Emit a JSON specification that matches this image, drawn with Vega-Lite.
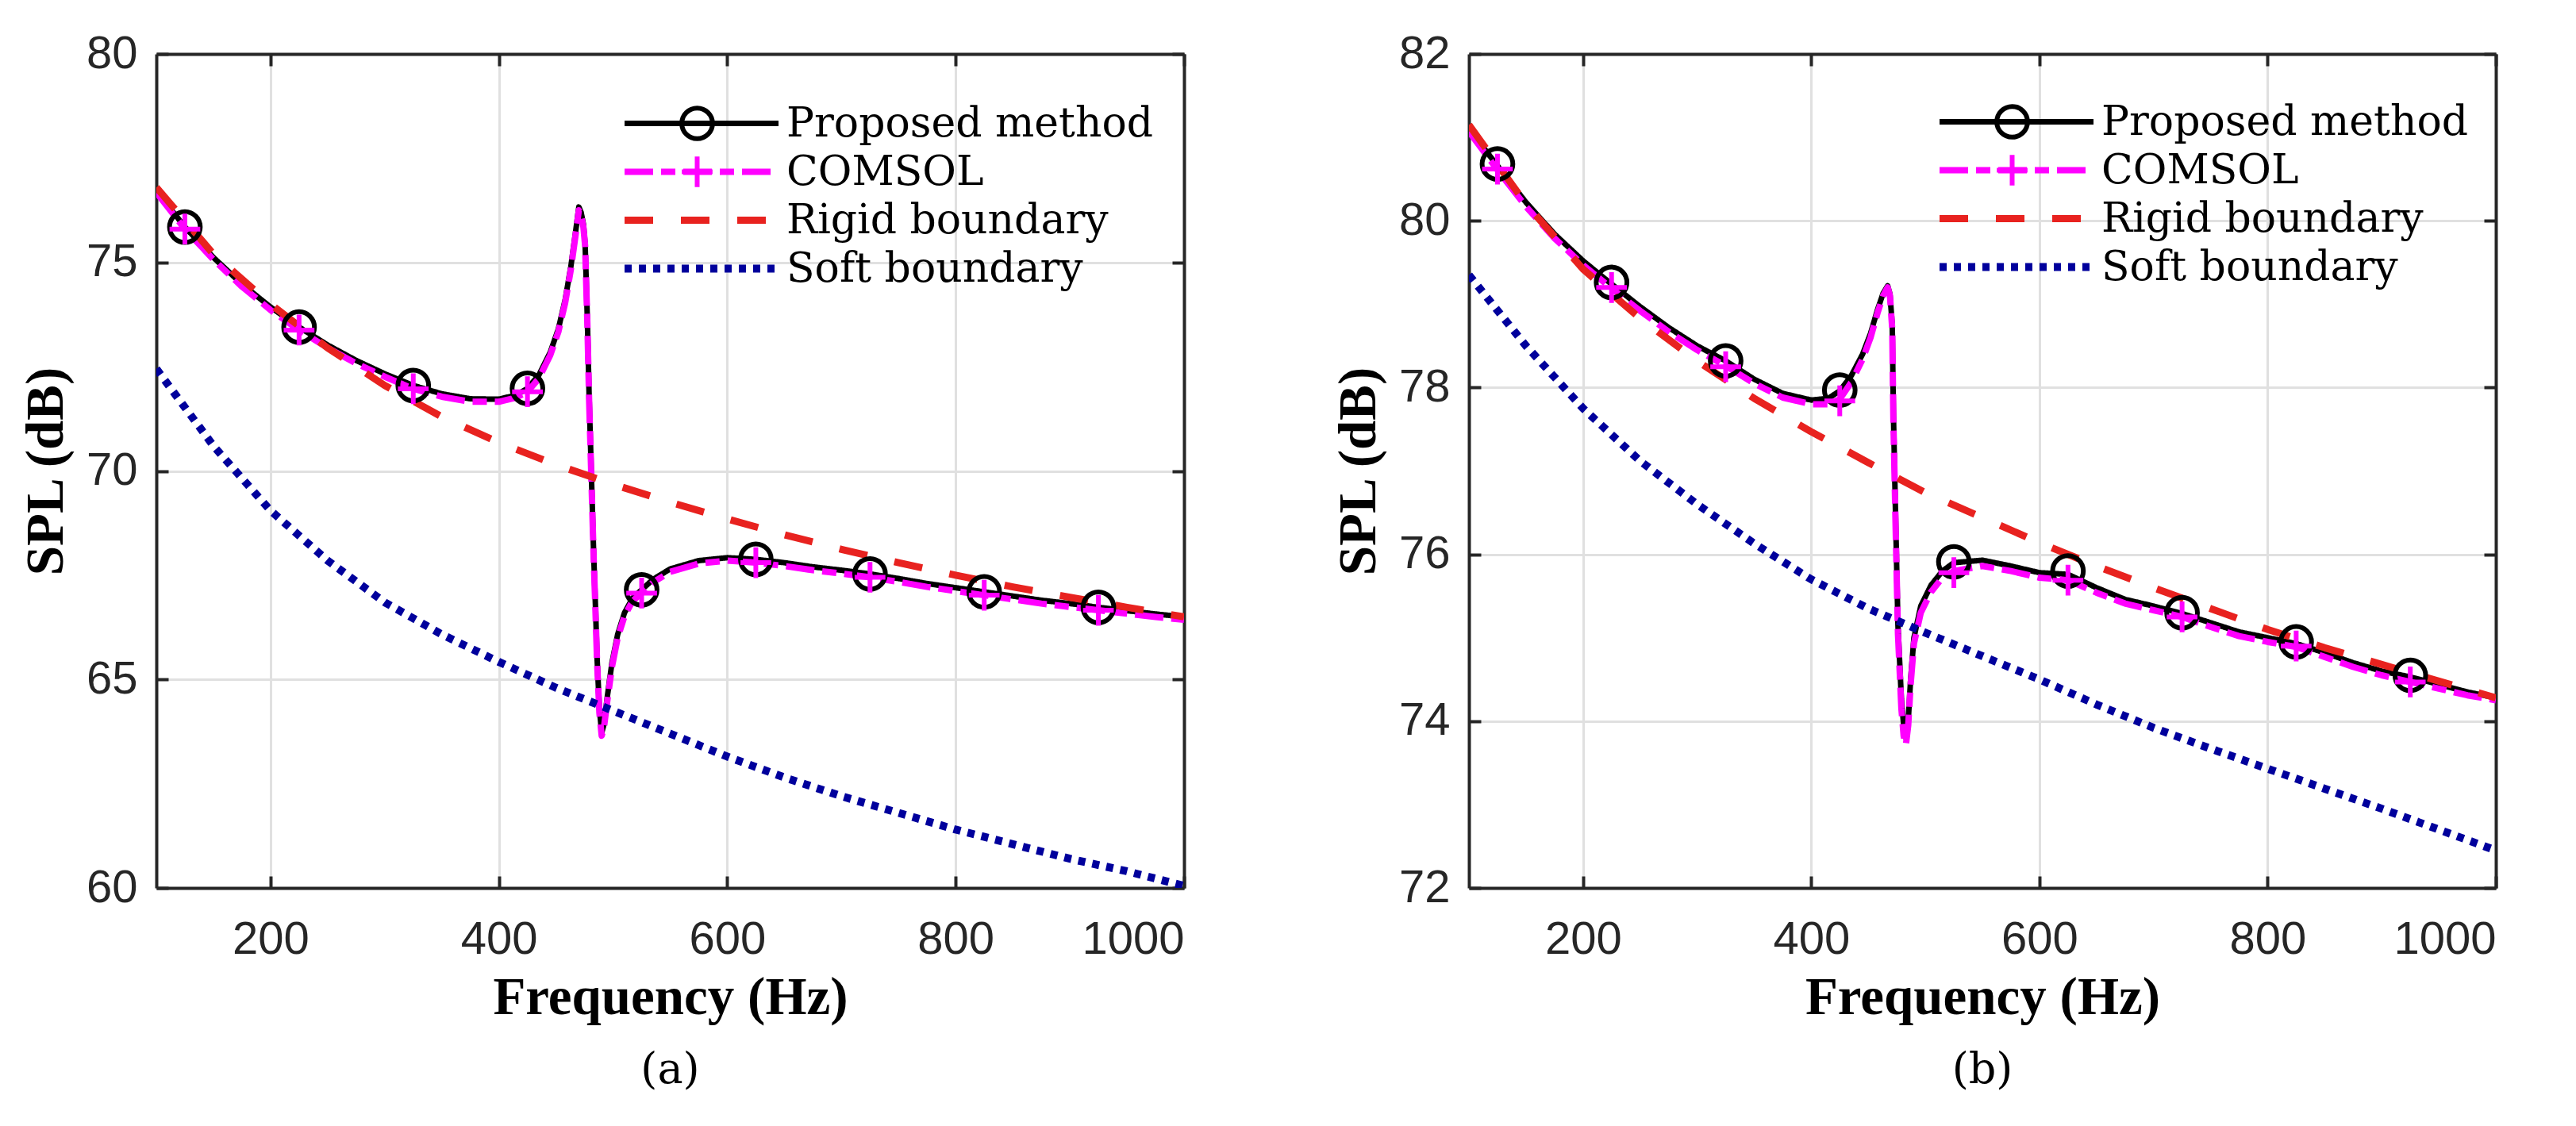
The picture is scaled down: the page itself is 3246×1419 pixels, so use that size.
{
  "$schema": "https://vega.github.io/schema/vega-lite/v6.json",
  "background": "white",
  "padding": {"left": 24, "top": 39, "right": 5, "bottom": 5},
  "datasets": {
    "lines": [
      {"panel": "a", "series": "Proposed method", "freq": 100, "spl": 76.72},
      {"panel": "a", "series": "Proposed method", "freq": 125, "spl": 75.85},
      {"panel": "a", "series": "Proposed method", "freq": 150, "spl": 75.12},
      {"panel": "a", "series": "Proposed method", "freq": 175, "spl": 74.48},
      {"panel": "a", "series": "Proposed method", "freq": 200, "spl": 73.93},
      {"panel": "a", "series": "Proposed method", "freq": 225, "spl": 73.45},
      {"panel": "a", "series": "Proposed method", "freq": 250, "spl": 73.02},
      {"panel": "a", "series": "Proposed method", "freq": 275, "spl": 72.65},
      {"panel": "a", "series": "Proposed method", "freq": 300, "spl": 72.33},
      {"panel": "a", "series": "Proposed method", "freq": 325, "spl": 72.05},
      {"panel": "a", "series": "Proposed method", "freq": 350, "spl": 71.85},
      {"panel": "a", "series": "Proposed method", "freq": 375, "spl": 71.73},
      {"panel": "a", "series": "Proposed method", "freq": 400, "spl": 71.72},
      {"panel": "a", "series": "Proposed method", "freq": 415, "spl": 71.82},
      {"panel": "a", "series": "Proposed method", "freq": 425, "spl": 71.98},
      {"panel": "a", "series": "Proposed method", "freq": 435, "spl": 72.3},
      {"panel": "a", "series": "Proposed method", "freq": 445, "spl": 72.85},
      {"panel": "a", "series": "Proposed method", "freq": 452, "spl": 73.4},
      {"panel": "a", "series": "Proposed method", "freq": 458, "spl": 74.1},
      {"panel": "a", "series": "Proposed method", "freq": 463, "spl": 74.9},
      {"panel": "a", "series": "Proposed method", "freq": 467, "spl": 75.7},
      {"panel": "a", "series": "Proposed method", "freq": 470, "spl": 76.33},
      {"panel": "a", "series": "Proposed method", "freq": 472, "spl": 76.2},
      {"panel": "a", "series": "Proposed method", "freq": 474, "spl": 75.92},
      {"panel": "a", "series": "Proposed method", "freq": 475.5, "spl": 75.45},
      {"panel": "a", "series": "Proposed method", "freq": 477.5, "spl": 73.6},
      {"panel": "a", "series": "Proposed method", "freq": 479, "spl": 71.8},
      {"panel": "a", "series": "Proposed method", "freq": 481, "spl": 69.9},
      {"panel": "a", "series": "Proposed method", "freq": 483, "spl": 68.0},
      {"panel": "a", "series": "Proposed method", "freq": 484.5, "spl": 66.8},
      {"panel": "a", "series": "Proposed method", "freq": 486, "spl": 65.5},
      {"panel": "a", "series": "Proposed method", "freq": 488, "spl": 64.3},
      {"panel": "a", "series": "Proposed method", "freq": 490, "spl": 63.72},
      {"panel": "a", "series": "Proposed method", "freq": 492, "spl": 63.92},
      {"panel": "a", "series": "Proposed method", "freq": 495, "spl": 64.6},
      {"panel": "a", "series": "Proposed method", "freq": 499, "spl": 65.4},
      {"panel": "a", "series": "Proposed method", "freq": 504, "spl": 66.08},
      {"panel": "a", "series": "Proposed method", "freq": 510, "spl": 66.6},
      {"panel": "a", "series": "Proposed method", "freq": 517, "spl": 66.95},
      {"panel": "a", "series": "Proposed method", "freq": 525, "spl": 67.15},
      {"panel": "a", "series": "Proposed method", "freq": 535, "spl": 67.4},
      {"panel": "a", "series": "Proposed method", "freq": 550, "spl": 67.65},
      {"panel": "a", "series": "Proposed method", "freq": 575, "spl": 67.85},
      {"panel": "a", "series": "Proposed method", "freq": 600, "spl": 67.92},
      {"panel": "a", "series": "Proposed method", "freq": 625, "spl": 67.88},
      {"panel": "a", "series": "Proposed method", "freq": 650, "spl": 67.8},
      {"panel": "a", "series": "Proposed method", "freq": 675, "spl": 67.7},
      {"panel": "a", "series": "Proposed method", "freq": 700, "spl": 67.62},
      {"panel": "a", "series": "Proposed method", "freq": 725, "spl": 67.53},
      {"panel": "a", "series": "Proposed method", "freq": 750, "spl": 67.42},
      {"panel": "a", "series": "Proposed method", "freq": 775, "spl": 67.3},
      {"panel": "a", "series": "Proposed method", "freq": 800, "spl": 67.2},
      {"panel": "a", "series": "Proposed method", "freq": 825, "spl": 67.1},
      {"panel": "a", "series": "Proposed method", "freq": 850, "spl": 67.0},
      {"panel": "a", "series": "Proposed method", "freq": 875, "spl": 66.9},
      {"panel": "a", "series": "Proposed method", "freq": 900, "spl": 66.82},
      {"panel": "a", "series": "Proposed method", "freq": 925, "spl": 66.73},
      {"panel": "a", "series": "Proposed method", "freq": 950, "spl": 66.65},
      {"panel": "a", "series": "Proposed method", "freq": 975, "spl": 66.57},
      {"panel": "a", "series": "Proposed method", "freq": 1000, "spl": 66.5},

      {"panel": "a", "series": "COMSOL", "freq": 100, "spl": 76.68},
      {"panel": "a", "series": "COMSOL", "freq": 125, "spl": 75.8},
      {"panel": "a", "series": "COMSOL", "freq": 150, "spl": 75.07},
      {"panel": "a", "series": "COMSOL", "freq": 175, "spl": 74.42},
      {"panel": "a", "series": "COMSOL", "freq": 200, "spl": 73.86},
      {"panel": "a", "series": "COMSOL", "freq": 225, "spl": 73.38},
      {"panel": "a", "series": "COMSOL", "freq": 250, "spl": 72.95},
      {"panel": "a", "series": "COMSOL", "freq": 275, "spl": 72.58},
      {"panel": "a", "series": "COMSOL", "freq": 300, "spl": 72.26},
      {"panel": "a", "series": "COMSOL", "freq": 325, "spl": 71.97},
      {"panel": "a", "series": "COMSOL", "freq": 350, "spl": 71.78},
      {"panel": "a", "series": "COMSOL", "freq": 375, "spl": 71.66},
      {"panel": "a", "series": "COMSOL", "freq": 400, "spl": 71.66},
      {"panel": "a", "series": "COMSOL", "freq": 415, "spl": 71.76},
      {"panel": "a", "series": "COMSOL", "freq": 425, "spl": 71.9},
      {"panel": "a", "series": "COMSOL", "freq": 435, "spl": 72.22},
      {"panel": "a", "series": "COMSOL", "freq": 445, "spl": 72.78},
      {"panel": "a", "series": "COMSOL", "freq": 452, "spl": 73.33},
      {"panel": "a", "series": "COMSOL", "freq": 458, "spl": 74.03},
      {"panel": "a", "series": "COMSOL", "freq": 463, "spl": 74.83},
      {"panel": "a", "series": "COMSOL", "freq": 467, "spl": 75.63},
      {"panel": "a", "series": "COMSOL", "freq": 470, "spl": 76.25},
      {"panel": "a", "series": "COMSOL", "freq": 472, "spl": 76.12},
      {"panel": "a", "series": "COMSOL", "freq": 474, "spl": 75.85},
      {"panel": "a", "series": "COMSOL", "freq": 475.5, "spl": 75.4},
      {"panel": "a", "series": "COMSOL", "freq": 477.5, "spl": 73.5},
      {"panel": "a", "series": "COMSOL", "freq": 479, "spl": 71.7},
      {"panel": "a", "series": "COMSOL", "freq": 481, "spl": 69.8},
      {"panel": "a", "series": "COMSOL", "freq": 483, "spl": 67.9},
      {"panel": "a", "series": "COMSOL", "freq": 484.5, "spl": 66.7},
      {"panel": "a", "series": "COMSOL", "freq": 486, "spl": 65.4},
      {"panel": "a", "series": "COMSOL", "freq": 488, "spl": 64.2},
      {"panel": "a", "series": "COMSOL", "freq": 490, "spl": 63.65},
      {"panel": "a", "series": "COMSOL", "freq": 492, "spl": 63.85},
      {"panel": "a", "series": "COMSOL", "freq": 495, "spl": 64.5},
      {"panel": "a", "series": "COMSOL", "freq": 499, "spl": 65.3},
      {"panel": "a", "series": "COMSOL", "freq": 504, "spl": 66.0},
      {"panel": "a", "series": "COMSOL", "freq": 510, "spl": 66.52},
      {"panel": "a", "series": "COMSOL", "freq": 517, "spl": 66.88},
      {"panel": "a", "series": "COMSOL", "freq": 525, "spl": 67.07},
      {"panel": "a", "series": "COMSOL", "freq": 535, "spl": 67.33},
      {"panel": "a", "series": "COMSOL", "freq": 550, "spl": 67.58},
      {"panel": "a", "series": "COMSOL", "freq": 575, "spl": 67.78},
      {"panel": "a", "series": "COMSOL", "freq": 600, "spl": 67.85},
      {"panel": "a", "series": "COMSOL", "freq": 625, "spl": 67.8},
      {"panel": "a", "series": "COMSOL", "freq": 650, "spl": 67.72},
      {"panel": "a", "series": "COMSOL", "freq": 675, "spl": 67.62},
      {"panel": "a", "series": "COMSOL", "freq": 700, "spl": 67.54},
      {"panel": "a", "series": "COMSOL", "freq": 725, "spl": 67.45},
      {"panel": "a", "series": "COMSOL", "freq": 750, "spl": 67.34},
      {"panel": "a", "series": "COMSOL", "freq": 775, "spl": 67.22},
      {"panel": "a", "series": "COMSOL", "freq": 800, "spl": 67.12},
      {"panel": "a", "series": "COMSOL", "freq": 825, "spl": 67.02},
      {"panel": "a", "series": "COMSOL", "freq": 850, "spl": 66.92},
      {"panel": "a", "series": "COMSOL", "freq": 875, "spl": 66.82},
      {"panel": "a", "series": "COMSOL", "freq": 900, "spl": 66.74},
      {"panel": "a", "series": "COMSOL", "freq": 925, "spl": 66.66},
      {"panel": "a", "series": "COMSOL", "freq": 950, "spl": 66.58},
      {"panel": "a", "series": "COMSOL", "freq": 975, "spl": 66.5},
      {"panel": "a", "series": "COMSOL", "freq": 1000, "spl": 66.43},

      {"panel": "a", "series": "Rigid boundary", "freq": 100, "spl": 76.8},
      {"panel": "a", "series": "Rigid boundary", "freq": 150, "spl": 75.2},
      {"panel": "a", "series": "Rigid boundary", "freq": 200, "spl": 74.0},
      {"panel": "a", "series": "Rigid boundary", "freq": 250, "spl": 72.95},
      {"panel": "a", "series": "Rigid boundary", "freq": 300, "spl": 72.05},
      {"panel": "a", "series": "Rigid boundary", "freq": 350, "spl": 71.3},
      {"panel": "a", "series": "Rigid boundary", "freq": 400, "spl": 70.68},
      {"panel": "a", "series": "Rigid boundary", "freq": 450, "spl": 70.15},
      {"panel": "a", "series": "Rigid boundary", "freq": 500, "spl": 69.68},
      {"panel": "a", "series": "Rigid boundary", "freq": 550, "spl": 69.25},
      {"panel": "a", "series": "Rigid boundary", "freq": 600, "spl": 68.85},
      {"panel": "a", "series": "Rigid boundary", "freq": 650, "spl": 68.47},
      {"panel": "a", "series": "Rigid boundary", "freq": 700, "spl": 68.12},
      {"panel": "a", "series": "Rigid boundary", "freq": 750, "spl": 67.8},
      {"panel": "a", "series": "Rigid boundary", "freq": 800, "spl": 67.5},
      {"panel": "a", "series": "Rigid boundary", "freq": 850, "spl": 67.22},
      {"panel": "a", "series": "Rigid boundary", "freq": 900, "spl": 66.97},
      {"panel": "a", "series": "Rigid boundary", "freq": 950, "spl": 66.73},
      {"panel": "a", "series": "Rigid boundary", "freq": 1000, "spl": 66.5},

      {"panel": "a", "series": "Soft boundary", "freq": 100, "spl": 72.45},
      {"panel": "a", "series": "Soft boundary", "freq": 150, "spl": 70.6},
      {"panel": "a", "series": "Soft boundary", "freq": 200, "spl": 69.05},
      {"panel": "a", "series": "Soft boundary", "freq": 250, "spl": 67.85},
      {"panel": "a", "series": "Soft boundary", "freq": 300, "spl": 66.85},
      {"panel": "a", "series": "Soft boundary", "freq": 350, "spl": 66.08},
      {"panel": "a", "series": "Soft boundary", "freq": 400, "spl": 65.42},
      {"panel": "a", "series": "Soft boundary", "freq": 450, "spl": 64.8},
      {"panel": "a", "series": "Soft boundary", "freq": 500, "spl": 64.25},
      {"panel": "a", "series": "Soft boundary", "freq": 550, "spl": 63.7},
      {"panel": "a", "series": "Soft boundary", "freq": 600, "spl": 63.15},
      {"panel": "a", "series": "Soft boundary", "freq": 650, "spl": 62.65},
      {"panel": "a", "series": "Soft boundary", "freq": 700, "spl": 62.2},
      {"panel": "a", "series": "Soft boundary", "freq": 750, "spl": 61.8},
      {"panel": "a", "series": "Soft boundary", "freq": 800, "spl": 61.4},
      {"panel": "a", "series": "Soft boundary", "freq": 850, "spl": 61.05},
      {"panel": "a", "series": "Soft boundary", "freq": 900, "spl": 60.7},
      {"panel": "a", "series": "Soft boundary", "freq": 950, "spl": 60.4},
      {"panel": "a", "series": "Soft boundary", "freq": 1000, "spl": 60.05},

      {"panel": "b", "series": "Proposed method", "freq": 100, "spl": 81.1},
      {"panel": "b", "series": "Proposed method", "freq": 125, "spl": 80.66},
      {"panel": "b", "series": "Proposed method", "freq": 150, "spl": 80.22},
      {"panel": "b", "series": "Proposed method", "freq": 175, "spl": 79.84},
      {"panel": "b", "series": "Proposed method", "freq": 200, "spl": 79.52},
      {"panel": "b", "series": "Proposed method", "freq": 225, "spl": 79.24},
      {"panel": "b", "series": "Proposed method", "freq": 250, "spl": 78.97},
      {"panel": "b", "series": "Proposed method", "freq": 275, "spl": 78.72},
      {"panel": "b", "series": "Proposed method", "freq": 300, "spl": 78.5},
      {"panel": "b", "series": "Proposed method", "freq": 325, "spl": 78.32},
      {"panel": "b", "series": "Proposed method", "freq": 350, "spl": 78.1},
      {"panel": "b", "series": "Proposed method", "freq": 375, "spl": 77.93},
      {"panel": "b", "series": "Proposed method", "freq": 400, "spl": 77.85},
      {"panel": "b", "series": "Proposed method", "freq": 415, "spl": 77.87},
      {"panel": "b", "series": "Proposed method", "freq": 425, "spl": 77.96},
      {"panel": "b", "series": "Proposed method", "freq": 435, "spl": 78.14},
      {"panel": "b", "series": "Proposed method", "freq": 445, "spl": 78.4},
      {"panel": "b", "series": "Proposed method", "freq": 452, "spl": 78.65},
      {"panel": "b", "series": "Proposed method", "freq": 458, "spl": 78.93},
      {"panel": "b", "series": "Proposed method", "freq": 463, "spl": 79.13},
      {"panel": "b", "series": "Proposed method", "freq": 467, "spl": 79.22},
      {"panel": "b", "series": "Proposed method", "freq": 469, "spl": 79.12},
      {"panel": "b", "series": "Proposed method", "freq": 471, "spl": 78.75},
      {"panel": "b", "series": "Proposed method", "freq": 472, "spl": 77.7},
      {"panel": "b", "series": "Proposed method", "freq": 474, "spl": 76.4},
      {"panel": "b", "series": "Proposed method", "freq": 476, "spl": 75.15},
      {"panel": "b", "series": "Proposed method", "freq": 479, "spl": 74.27},
      {"panel": "b", "series": "Proposed method", "freq": 481, "spl": 73.95},
      {"panel": "b", "series": "Proposed method", "freq": 483, "spl": 73.8},
      {"panel": "b", "series": "Proposed method", "freq": 485, "spl": 74.0},
      {"panel": "b", "series": "Proposed method", "freq": 487, "spl": 74.48},
      {"panel": "b", "series": "Proposed method", "freq": 490, "spl": 75.0},
      {"panel": "b", "series": "Proposed method", "freq": 496, "spl": 75.38},
      {"panel": "b", "series": "Proposed method", "freq": 505, "spl": 75.63},
      {"panel": "b", "series": "Proposed method", "freq": 515, "spl": 75.8},
      {"panel": "b", "series": "Proposed method", "freq": 525, "spl": 75.9},
      {"panel": "b", "series": "Proposed method", "freq": 550, "spl": 75.93},
      {"panel": "b", "series": "Proposed method", "freq": 575, "spl": 75.86},
      {"panel": "b", "series": "Proposed method", "freq": 600, "spl": 75.78},
      {"panel": "b", "series": "Proposed method", "freq": 625, "spl": 75.76},
      {"panel": "b", "series": "Proposed method", "freq": 650, "spl": 75.6},
      {"panel": "b", "series": "Proposed method", "freq": 675, "spl": 75.46},
      {"panel": "b", "series": "Proposed method", "freq": 700, "spl": 75.38},
      {"panel": "b", "series": "Proposed method", "freq": 725, "spl": 75.29},
      {"panel": "b", "series": "Proposed method", "freq": 750, "spl": 75.18},
      {"panel": "b", "series": "Proposed method", "freq": 775, "spl": 75.07},
      {"panel": "b", "series": "Proposed method", "freq": 800, "spl": 75.0},
      {"panel": "b", "series": "Proposed method", "freq": 825, "spl": 74.93},
      {"panel": "b", "series": "Proposed method", "freq": 850, "spl": 74.82},
      {"panel": "b", "series": "Proposed method", "freq": 875, "spl": 74.7},
      {"panel": "b", "series": "Proposed method", "freq": 900, "spl": 74.6},
      {"panel": "b", "series": "Proposed method", "freq": 925, "spl": 74.53},
      {"panel": "b", "series": "Proposed method", "freq": 950, "spl": 74.44},
      {"panel": "b", "series": "Proposed method", "freq": 975, "spl": 74.35},
      {"panel": "b", "series": "Proposed method", "freq": 1000, "spl": 74.28},

      {"panel": "b", "series": "COMSOL", "freq": 100, "spl": 81.07},
      {"panel": "b", "series": "COMSOL", "freq": 125, "spl": 80.61},
      {"panel": "b", "series": "COMSOL", "freq": 150, "spl": 80.17},
      {"panel": "b", "series": "COMSOL", "freq": 175, "spl": 79.79},
      {"panel": "b", "series": "COMSOL", "freq": 200, "spl": 79.47},
      {"panel": "b", "series": "COMSOL", "freq": 225, "spl": 79.19},
      {"panel": "b", "series": "COMSOL", "freq": 250, "spl": 78.92},
      {"panel": "b", "series": "COMSOL", "freq": 275, "spl": 78.67},
      {"panel": "b", "series": "COMSOL", "freq": 300, "spl": 78.45},
      {"panel": "b", "series": "COMSOL", "freq": 325, "spl": 78.26},
      {"panel": "b", "series": "COMSOL", "freq": 350, "spl": 78.05},
      {"panel": "b", "series": "COMSOL", "freq": 375, "spl": 77.88},
      {"panel": "b", "series": "COMSOL", "freq": 400, "spl": 77.8},
      {"panel": "b", "series": "COMSOL", "freq": 415, "spl": 77.8},
      {"panel": "b", "series": "COMSOL", "freq": 425, "spl": 77.86},
      {"panel": "b", "series": "COMSOL", "freq": 435, "spl": 78.06},
      {"panel": "b", "series": "COMSOL", "freq": 445, "spl": 78.34},
      {"panel": "b", "series": "COMSOL", "freq": 452, "spl": 78.6},
      {"panel": "b", "series": "COMSOL", "freq": 458, "spl": 78.89},
      {"panel": "b", "series": "COMSOL", "freq": 463, "spl": 79.1},
      {"panel": "b", "series": "COMSOL", "freq": 467, "spl": 79.2},
      {"panel": "b", "series": "COMSOL", "freq": 469, "spl": 79.1},
      {"panel": "b", "series": "COMSOL", "freq": 471, "spl": 78.7},
      {"panel": "b", "series": "COMSOL", "freq": 472, "spl": 77.6},
      {"panel": "b", "series": "COMSOL", "freq": 474, "spl": 76.3},
      {"panel": "b", "series": "COMSOL", "freq": 476, "spl": 75.05},
      {"panel": "b", "series": "COMSOL", "freq": 479, "spl": 74.15},
      {"panel": "b", "series": "COMSOL", "freq": 481, "spl": 73.82},
      {"panel": "b", "series": "COMSOL", "freq": 483, "spl": 73.72},
      {"panel": "b", "series": "COMSOL", "freq": 485, "spl": 73.95},
      {"panel": "b", "series": "COMSOL", "freq": 487, "spl": 74.42},
      {"panel": "b", "series": "COMSOL", "freq": 490, "spl": 74.93},
      {"panel": "b", "series": "COMSOL", "freq": 496, "spl": 75.3},
      {"panel": "b", "series": "COMSOL", "freq": 505, "spl": 75.55},
      {"panel": "b", "series": "COMSOL", "freq": 515, "spl": 75.72},
      {"panel": "b", "series": "COMSOL", "freq": 525, "spl": 75.8},
      {"panel": "b", "series": "COMSOL", "freq": 550, "spl": 75.86},
      {"panel": "b", "series": "COMSOL", "freq": 575, "spl": 75.8},
      {"panel": "b", "series": "COMSOL", "freq": 600, "spl": 75.72},
      {"panel": "b", "series": "COMSOL", "freq": 625, "spl": 75.69},
      {"panel": "b", "series": "COMSOL", "freq": 650, "spl": 75.54},
      {"panel": "b", "series": "COMSOL", "freq": 675, "spl": 75.41},
      {"panel": "b", "series": "COMSOL", "freq": 700, "spl": 75.33},
      {"panel": "b", "series": "COMSOL", "freq": 725, "spl": 75.25},
      {"panel": "b", "series": "COMSOL", "freq": 750, "spl": 75.13},
      {"panel": "b", "series": "COMSOL", "freq": 775, "spl": 75.02},
      {"panel": "b", "series": "COMSOL", "freq": 800, "spl": 74.95},
      {"panel": "b", "series": "COMSOL", "freq": 825, "spl": 74.89},
      {"panel": "b", "series": "COMSOL", "freq": 850, "spl": 74.77},
      {"panel": "b", "series": "COMSOL", "freq": 875, "spl": 74.65},
      {"panel": "b", "series": "COMSOL", "freq": 900, "spl": 74.55},
      {"panel": "b", "series": "COMSOL", "freq": 925, "spl": 74.47},
      {"panel": "b", "series": "COMSOL", "freq": 950, "spl": 74.39},
      {"panel": "b", "series": "COMSOL", "freq": 975, "spl": 74.31},
      {"panel": "b", "series": "COMSOL", "freq": 1000, "spl": 74.25},

      {"panel": "b", "series": "Rigid boundary", "freq": 100, "spl": 81.15},
      {"panel": "b", "series": "Rigid boundary", "freq": 150, "spl": 80.2},
      {"panel": "b", "series": "Rigid boundary", "freq": 200, "spl": 79.42},
      {"panel": "b", "series": "Rigid boundary", "freq": 250, "spl": 78.83},
      {"panel": "b", "series": "Rigid boundary", "freq": 300, "spl": 78.32},
      {"panel": "b", "series": "Rigid boundary", "freq": 350, "spl": 77.87},
      {"panel": "b", "series": "Rigid boundary", "freq": 400, "spl": 77.47},
      {"panel": "b", "series": "Rigid boundary", "freq": 450, "spl": 77.1},
      {"panel": "b", "series": "Rigid boundary", "freq": 500, "spl": 76.74},
      {"panel": "b", "series": "Rigid boundary", "freq": 550, "spl": 76.44},
      {"panel": "b", "series": "Rigid boundary", "freq": 600, "spl": 76.14},
      {"panel": "b", "series": "Rigid boundary", "freq": 650, "spl": 75.86},
      {"panel": "b", "series": "Rigid boundary", "freq": 700, "spl": 75.6},
      {"panel": "b", "series": "Rigid boundary", "freq": 750, "spl": 75.35},
      {"panel": "b", "series": "Rigid boundary", "freq": 800, "spl": 75.1},
      {"panel": "b", "series": "Rigid boundary", "freq": 850, "spl": 74.88},
      {"panel": "b", "series": "Rigid boundary", "freq": 900, "spl": 74.68},
      {"panel": "b", "series": "Rigid boundary", "freq": 950, "spl": 74.48},
      {"panel": "b", "series": "Rigid boundary", "freq": 1000, "spl": 74.28},

      {"panel": "b", "series": "Soft boundary", "freq": 100, "spl": 79.35},
      {"panel": "b", "series": "Soft boundary", "freq": 150, "spl": 78.5},
      {"panel": "b", "series": "Soft boundary", "freq": 200, "spl": 77.75},
      {"panel": "b", "series": "Soft boundary", "freq": 250, "spl": 77.12},
      {"panel": "b", "series": "Soft boundary", "freq": 300, "spl": 76.6},
      {"panel": "b", "series": "Soft boundary", "freq": 350, "spl": 76.13},
      {"panel": "b", "series": "Soft boundary", "freq": 400, "spl": 75.7},
      {"panel": "b", "series": "Soft boundary", "freq": 450, "spl": 75.35},
      {"panel": "b", "series": "Soft boundary", "freq": 500, "spl": 75.06},
      {"panel": "b", "series": "Soft boundary", "freq": 550, "spl": 74.78},
      {"panel": "b", "series": "Soft boundary", "freq": 600, "spl": 74.5},
      {"panel": "b", "series": "Soft boundary", "freq": 650, "spl": 74.2},
      {"panel": "b", "series": "Soft boundary", "freq": 700, "spl": 73.92},
      {"panel": "b", "series": "Soft boundary", "freq": 750, "spl": 73.67},
      {"panel": "b", "series": "Soft boundary", "freq": 800, "spl": 73.43},
      {"panel": "b", "series": "Soft boundary", "freq": 850, "spl": 73.19},
      {"panel": "b", "series": "Soft boundary", "freq": 900, "spl": 72.95},
      {"panel": "b", "series": "Soft boundary", "freq": 950, "spl": 72.7},
      {"panel": "b", "series": "Soft boundary", "freq": 1000, "spl": 72.45}
    ],
    "markers": [
      {"panel": "a", "method": "Proposed method", "freq": 125, "spl": 75.85},
      {"panel": "a", "method": "Proposed method", "freq": 225, "spl": 73.45},
      {"panel": "a", "method": "Proposed method", "freq": 325, "spl": 72.05},
      {"panel": "a", "method": "Proposed method", "freq": 425, "spl": 71.98},
      {"panel": "a", "method": "Proposed method", "freq": 525, "spl": 67.15},
      {"panel": "a", "method": "Proposed method", "freq": 625, "spl": 67.88},
      {"panel": "a", "method": "Proposed method", "freq": 725, "spl": 67.53},
      {"panel": "a", "method": "Proposed method", "freq": 825, "spl": 67.1},
      {"panel": "a", "method": "Proposed method", "freq": 925, "spl": 66.73},
      {"panel": "a", "method": "COMSOL", "freq": 125, "spl": 75.8},
      {"panel": "a", "method": "COMSOL", "freq": 225, "spl": 73.38},
      {"panel": "a", "method": "COMSOL", "freq": 325, "spl": 71.97},
      {"panel": "a", "method": "COMSOL", "freq": 425, "spl": 71.9},
      {"panel": "a", "method": "COMSOL", "freq": 525, "spl": 67.07},
      {"panel": "a", "method": "COMSOL", "freq": 625, "spl": 67.8},
      {"panel": "a", "method": "COMSOL", "freq": 725, "spl": 67.45},
      {"panel": "a", "method": "COMSOL", "freq": 825, "spl": 67.02},
      {"panel": "a", "method": "COMSOL", "freq": 925, "spl": 66.66},
      {"panel": "b", "method": "Proposed method", "freq": 125, "spl": 80.68},
      {"panel": "b", "method": "Proposed method", "freq": 225, "spl": 79.26},
      {"panel": "b", "method": "Proposed method", "freq": 325, "spl": 78.32},
      {"panel": "b", "method": "Proposed method", "freq": 425, "spl": 77.97},
      {"panel": "b", "method": "Proposed method", "freq": 525, "spl": 75.91},
      {"panel": "b", "method": "Proposed method", "freq": 625, "spl": 75.8},
      {"panel": "b", "method": "Proposed method", "freq": 725, "spl": 75.3},
      {"panel": "b", "method": "Proposed method", "freq": 825, "spl": 74.95},
      {"panel": "b", "method": "Proposed method", "freq": 925, "spl": 74.55},
      {"panel": "b", "method": "COMSOL", "freq": 125, "spl": 80.62},
      {"panel": "b", "method": "COMSOL", "freq": 225, "spl": 79.2},
      {"panel": "b", "method": "COMSOL", "freq": 325, "spl": 78.25},
      {"panel": "b", "method": "COMSOL", "freq": 425, "spl": 77.84},
      {"panel": "b", "method": "COMSOL", "freq": 525, "spl": 75.78},
      {"panel": "b", "method": "COMSOL", "freq": 625, "spl": 75.69},
      {"panel": "b", "method": "COMSOL", "freq": 725, "spl": 75.25},
      {"panel": "b", "method": "COMSOL", "freq": 825, "spl": 74.9},
      {"panel": "b", "method": "COMSOL", "freq": 925, "spl": 74.47}
    ]
  },
  "hconcat": [
    {
      "width": 1295,
      "height": 1051,
      "title": {"text": "(a)", "orient": "bottom", "anchor": "middle", "frame": "group", "font": "DejaVu Serif", "fontSize": 54, "fontWeight": "normal", "color": "#000000", "offset": 32},
      "layer": [
        {
          "data": {"name": "lines"},
          "transform": [{"filter": "datum.panel == 'a'"}],
          "mark": {"type": "line", "clip": true, "strokeCap": "butt", "strokeJoin": "round"},
          "encoding": {
            "x": {"field": "freq", "type": "quantitative", "scale": {"domain": [100, 1000], "nice": false, "zero": false},
                  "axis": {"orient": "bottom", "values": [200, 400, 600, 800, 1000], "format": "d", "title": "Frequency (Hz)", "grid": true, "labelPadding": 51, "titlePadding": 11}},
            "y": {"field": "spl", "type": "quantitative", "scale": {"domain": [60, 80], "nice": false, "zero": false},
                  "axis": {"orient": "left", "values": [60, 65, 70, 75, 80], "format": "d", "title": "SPL (dB)", "grid": true, "labelPadding": 39, "titlePadding": 16}},
            "color": {"field": "series", "type": "nominal",
                      "scale": {"domain": ["Proposed method", "COMSOL", "Rigid boundary", "Soft boundary"], "range": ["#000000", "#ff00ff", "#e8221f", "#00009c"]},
                      "legend": {"orient": "none", "legendX": 585, "legendY": 57, "title": null, "symbolType": "stroke", "symbolSize": 37636, "symbolStrokeWidth": 9, "clipHeight": 61, "rowPadding": 0, "padding": 0, "labelFont": "DejaVu Serif", "labelFontSize": 52, "labelColor": "#000000", "labelOffset": 5, "labelLimit": 1000}},
            "strokeDash": {"field": "series", "type": "nominal",
                           "scale": {"domain": ["Proposed method", "COMSOL", "Rigid boundary", "Soft boundary"], "range": [[1, 0], [36, 10, 18, 10], [36, 35], [9, 9]]},
                           "legend": {"orient": "none", "legendX": 585, "legendY": 57, "title": null, "symbolType": "stroke", "symbolSize": 37636, "symbolStrokeWidth": 9, "clipHeight": 61, "rowPadding": 0, "padding": 0, "labelFont": "DejaVu Serif", "labelFontSize": 52, "labelColor": "#000000", "labelOffset": 5, "labelLimit": 1000}},
            "strokeWidth": {"field": "series", "type": "ordinal",
                            "scale": {"domain": ["Proposed method", "COMSOL", "Rigid boundary", "Soft boundary"], "range": [7, 10, 9, 9]},
                            "legend": null}
          }
        },
        {
          "data": {"name": "markers"},
          "transform": [{"filter": "datum.panel == 'a'"}],
          "mark": {"type": "point", "filled": false, "strokeWidth": 6, "size": 1500, "opacity": 1, "clip": true},
          "encoding": {
            "x": {"field": "freq", "type": "quantitative",
                  "axis": {"orient": "top", "values": [200, 400, 600, 800, 1000], "labels": false, "title": null, "grid": false}},
            "y": {"field": "spl", "type": "quantitative",
                  "axis": {"orient": "right", "values": [60, 65, 70, 75, 80], "labels": false, "title": null, "grid": false}},
            "shape": {"field": "method", "type": "nominal", "sort": "descending",
                      "scale": {"range": ["circle", "M-1,0H1M0,-1V1"]},
                      "legend": {"orient": "none", "legendX": 659, "legendY": 57, "title": null, "symbolSize": 1500, "symbolStrokeWidth": 6, "clipHeight": 61, "rowPadding": 0, "padding": 0, "labelFontSize": 2, "labelExpr": "''"}},
            "stroke": {"field": "method", "type": "nominal", "sort": "descending",
                       "scale": {"range": ["#000000", "#ff00ff"]},
                       "legend": {"orient": "none", "legendX": 659, "legendY": 57, "title": null, "symbolSize": 1500, "symbolStrokeWidth": 6, "clipHeight": 61, "rowPadding": 0, "padding": 0, "labelFontSize": 2, "labelExpr": "''"}}
          }
        }
      ],
      "resolve": {"axis": {"x": "independent", "y": "independent"}}
    },
    {
      "width": 1294,
      "height": 1051,
      "title": {"text": "(b)", "orient": "bottom", "anchor": "middle", "frame": "group", "font": "DejaVu Serif", "fontSize": 54, "fontWeight": "normal", "color": "#000000", "offset": 32},
      "layer": [
        {
          "data": {"name": "lines"},
          "transform": [{"filter": "datum.panel == 'b'"}],
          "mark": {"type": "line", "clip": true, "strokeCap": "butt", "strokeJoin": "round"},
          "encoding": {
            "x": {"field": "freq", "type": "quantitative", "scale": {"domain": [100, 1000], "nice": false, "zero": false},
                  "axis": {"orient": "bottom", "values": [200, 400, 600, 800, 1000], "format": "d", "title": "Frequency (Hz)", "grid": true, "labelPadding": 51, "titlePadding": 11}},
            "y": {"field": "spl", "type": "quantitative", "scale": {"domain": [72, 82], "nice": false, "zero": false},
                  "axis": {"orient": "left", "values": [72, 74, 76, 78, 80, 82], "format": "d", "title": "SPL (dB)", "grid": true, "labelPadding": 39, "titlePadding": 16}},
            "color": {"field": "series", "type": "nominal",
                      "scale": {"domain": ["Proposed method", "COMSOL", "Rigid boundary", "Soft boundary"], "range": ["#000000", "#ff00ff", "#e8221f", "#00009c"]},
                      "legend": {"orient": "none", "legendX": 588, "legendY": 55, "title": null, "symbolType": "stroke", "symbolSize": 37636, "symbolStrokeWidth": 9, "clipHeight": 61, "rowPadding": 0, "padding": 0, "labelFont": "DejaVu Serif", "labelFontSize": 52, "labelColor": "#000000", "labelOffset": 5, "labelLimit": 1000}},
            "strokeDash": {"field": "series", "type": "nominal",
                           "scale": {"domain": ["Proposed method", "COMSOL", "Rigid boundary", "Soft boundary"], "range": [[1, 0], [36, 10, 18, 10], [36, 35], [9, 9]]},
                           "legend": {"orient": "none", "legendX": 588, "legendY": 55, "title": null, "symbolType": "stroke", "symbolSize": 37636, "symbolStrokeWidth": 9, "clipHeight": 61, "rowPadding": 0, "padding": 0, "labelFont": "DejaVu Serif", "labelFontSize": 52, "labelColor": "#000000", "labelOffset": 5, "labelLimit": 1000}},
            "strokeWidth": {"field": "series", "type": "ordinal",
                            "scale": {"domain": ["Proposed method", "COMSOL", "Rigid boundary", "Soft boundary"], "range": [7, 10, 9, 9]},
                            "legend": null}
          }
        },
        {
          "data": {"name": "markers"},
          "transform": [{"filter": "datum.panel == 'b'"}],
          "mark": {"type": "point", "filled": false, "strokeWidth": 6, "size": 1500, "opacity": 1, "clip": true},
          "encoding": {
            "x": {"field": "freq", "type": "quantitative",
                  "axis": {"orient": "top", "values": [200, 400, 600, 800, 1000], "labels": false, "title": null, "grid": false}},
            "y": {"field": "spl", "type": "quantitative",
                  "axis": {"orient": "right", "values": [72, 74, 76, 78, 80, 82], "labels": false, "title": null, "grid": false}},
            "shape": {"field": "method", "type": "nominal", "sort": "descending",
                      "scale": {"range": ["circle", "M-1,0H1M0,-1V1"]},
                      "legend": {"orient": "none", "legendX": 662, "legendY": 55, "title": null, "symbolSize": 1500, "symbolStrokeWidth": 6, "clipHeight": 61, "rowPadding": 0, "padding": 0, "labelFontSize": 2, "labelExpr": "''"}},
            "stroke": {"field": "method", "type": "nominal", "sort": "descending",
                       "scale": {"range": ["#000000", "#ff00ff"]},
                       "legend": {"orient": "none", "legendX": 662, "legendY": 55, "title": null, "symbolSize": 1500, "symbolStrokeWidth": 6, "clipHeight": 61, "rowPadding": 0, "padding": 0, "labelFontSize": 2, "labelExpr": "''"}}
          }
        }
      ],
      "resolve": {"axis": {"x": "independent", "y": "independent"}}
    }
  ],
  "spacing": 184,
  "resolve": {"scale": {"color": "independent", "strokeDash": "independent", "strokeWidth": "independent", "shape": "independent", "stroke": "independent"}},
  "config": {
    "view": {"stroke": null},
    "axis": {
      "labelFont": "Liberation Sans",
      "labelFontSize": 58,
      "labelColor": "#262626",
      "titleFont": "Liberation Serif",
      "titleFontSize": 67,
      "titleFontWeight": "bold",
      "titleColor": "#000000",
      "domainColor": "#262626",
      "domainWidth": 4,
      "tickColor": "#262626",
      "tickWidth": 4,
      "tickSize": -15,
      "gridColor": "#e0e0e0",
      "gridWidth": 3,
      "gridOpacity": 1
    }
  }
}
